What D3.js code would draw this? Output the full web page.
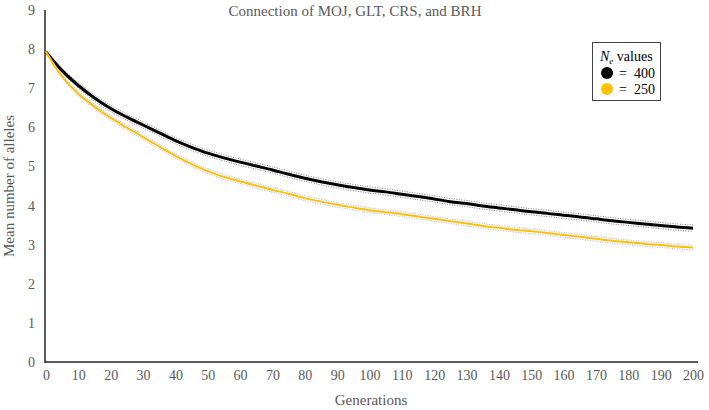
<!DOCTYPE html>
<html>
<head>
<meta charset="utf-8">
<script src="https://cdn.jsdelivr.net/npm/d3@7"></script>
<style>
  html, body { margin: 0; padding: 0; background: #fff; }
  svg text { font-family: "Liberation Serif", Tinos, "Times New Roman", Times, "DejaVu Serif", serif !important; }
</style>
</head>
<body>
<svg id="chart" width="709" height="410"></svg>
<script>
// ---- Data ----
const generations = [0,5,10,15,20,25,30,35,40,45,50,55,60,65,70,75,80,85,90,95,100,
  105,110,115,120,125,130,135,140,145,150,155,160,165,170,175,180,185,190,195,200];
const ne400 = [7.93,7.45,7.07,6.75,6.48,6.26,6.06,5.86,5.66,5.49,5.34,5.22,5.11,5.01,4.91,4.80,4.70,4.61,4.53,4.46,4.40,
  4.35,4.29,4.23,4.17,4.10,4.05,3.99,3.94,3.89,3.84,3.80,3.75,3.71,3.66,3.61,3.57,3.53,3.49,3.45,3.42];
const ne250 = [7.93,7.30,6.86,6.53,6.24,5.99,5.75,5.51,5.27,5.06,4.88,4.73,4.62,4.51,4.40,4.30,4.19,4.10,4.02,3.95,3.88,
  3.83,3.78,3.72,3.66,3.60,3.54,3.48,3.43,3.38,3.34,3.30,3.25,3.20,3.15,3.10,3.06,3.02,2.99,2.95,2.93];
// half-width of the dotted confidence lines
const ci400 = [0,0.05,0.07,0.08,0.08,0.08,0.08,0.08,0.08,0.08,0.08,0.08,0.08,0.08,0.08,0.08,0.08,0.08,0.08,0.08,0.08,
  0.08,0.08,0.08,0.08,0.08,0.08,0.08,0.08,0.08,0.08,0.08,0.08,0.08,0.08,0.08,0.08,0.08,0.08,0.08,0.08];
const ci250 = [0,0.04,0.06,0.06,0.06,0.06,0.06,0.06,0.06,0.06,0.06,0.06,0.06,0.06,0.06,0.06,0.06,0.06,0.06,0.06,0.06,
  0.06,0.06,0.06,0.06,0.06,0.06,0.06,0.06,0.06,0.06,0.06,0.06,0.06,0.06,0.06,0.06,0.06,0.06,0.06,0.06];
const xTicks = [0,10,20,30,40,50,60,70,80,90,100,110,120,130,140,150,160,170,180,190,200];
const yTicks = [0,1,2,3,4,5,6,7,8,9];
const seriesLabels = ["400", "250"];
const titleText = "Connection of MOJ, GLT, CRS, and BRH";

// ---- Layout ----
const svg = d3.select("#chart");
const textColor = "#595959";
const x = d3.scaleLinear().domain([0, 200]).range([46, 693]);
const y = d3.scaleLinear().domain([0, 9]).range([362, 10]);

const xAxis = d3.axisBottom(x).tickValues(xTicks).tickSize(0).tickPadding(8).tickFormat(d3.format("d"));
const yAxis = d3.axisLeft(y).tickValues(yTicks).tickSize(0).tickPadding(10).tickFormat(d3.format("d"));

const gx = svg.append("g").attr("transform", "translate(0,362)").call(xAxis);
gx.attr("font-family", null);
gx.select(".domain").attr("stroke", "#595959").attr("stroke-width", 2).attr("d", "M45,0H698");
gx.selectAll("text").attr("fill", textColor).attr("font-size", 14);

const gy = svg.append("g").attr("transform", "translate(45,0)").call(yAxis);
gy.attr("font-family", null);
gy.select(".domain").attr("stroke", "#262626").attr("stroke-width", 1.5).attr("d", "M0,10V363");
gy.selectAll("text").attr("fill", textColor).attr("font-size", 14);

// titles
svg.append("text").attr("x", 355).attr("y", 16).attr("text-anchor", "middle")
  .attr("fill", textColor).attr("font-size", 15).text(titleText);
svg.append("text").attr("x", 371).attr("y", 405).attr("text-anchor", "middle")
  .attr("fill", textColor).attr("font-size", 15).text("Generations");
svg.append("text").attr("transform", "translate(14,186) rotate(-90)").attr("text-anchor", "middle")
  .attr("fill", textColor).attr("font-size", 15).text("Mean number of alleles");

// lines
const series = [
  { vals: ne400, ci: ci400, color: "#000000", width: 3, ciColor: "#808080" },
  { vals: ne250, ci: ci250, color: "#FFC000", width: 2, ciColor: "#c3a6e3" }
];
const lineGen = d3.line().x(d => x(d[0])).y(d => y(d[1])).curve(d3.curveMonotoneX);

series.forEach(s => {
  const upper = generations.map((g, i) => [g, s.vals[i] + s.ci[i]]);
  const lower = generations.map((g, i) => [g, s.vals[i] - s.ci[i]]);
  [upper, lower].forEach(pts => {
    svg.append("path").attr("d", lineGen(pts)).attr("fill", "none")
      .attr("stroke", s.ciColor).attr("stroke-width", 1).attr("stroke-dasharray", "1,1.5");
  });
});
series.forEach(s => {
  const pts = generations.map((g, i) => [g, s.vals[i]]);
  svg.append("path").attr("d", lineGen(pts)).attr("fill", "none")
    .attr("stroke", s.color).attr("stroke-width", s.width).attr("stroke-linejoin", "round");
});

// legend
const lg = svg.append("g");
lg.append("rect").attr("x", 592.5).attr("y", 42.5).attr("width", 68).attr("height", 58)
  .attr("fill", "#fff").attr("stroke", "#404040").attr("stroke-width", 1);
const lt = lg.append("text").attr("x", 600).attr("y", 61).attr("fill", "#000").attr("font-size", 14);
lt.append("tspan").attr("font-style", "italic").text("N");
lt.append("tspan").attr("font-style", "italic").attr("font-size", 9).attr("dy", 3).text("e");
lt.append("tspan").attr("dy", -3).text(" values");
series.forEach((s, i) => {
  const cy = 73 + i * 16;
  lg.append("circle").attr("cx", 607).attr("cy", cy).attr("r", 6).attr("fill", s.color);
  lg.append("text").attr("x", 619).attr("y", cy + 5).attr("fill", "#000").attr("font-size", 14)
    .attr("xml:space", "preserve").text("=  " + seriesLabels[i]);
});
</script>
</body>
</html>
